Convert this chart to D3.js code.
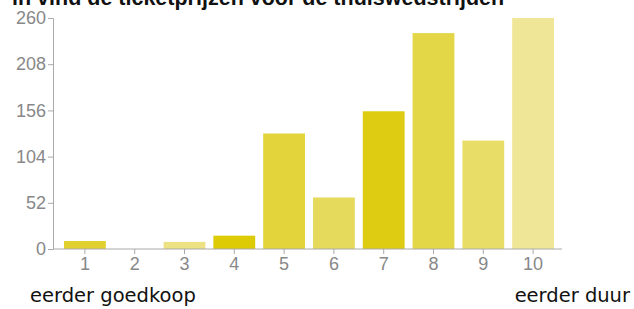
<!DOCTYPE html>
<html>
<head>
<meta charset="utf-8">
<script src="https://cdn.jsdelivr.net/npm/d3@7"></script>
<style>
  body { margin: 0; background: #fff; }
  svg { display: block; font-family: "Liberation Sans", Arial, sans-serif; }
</style>
</head>
<body>
<div id="root"></div>
<script>
"use strict";

const title = "in vind de ticketprijzen voor de thuiswedstrijden";
const categories = ["1", "2", "3", "4", "5", "6", "7", "8", "9", "10"];
const counts = [9, 0, 8, 15, 130, 58, 155, 243, 122, 260];
const yTicks = [0, 52, 104, 156, 208, 260];
const endLabels = ["eerder goedkoop", "eerder duur"];

const barColors = ["#e1d12e", "#e1d12e", "#ede283", "#dccb05", "#e2d43a",
                   "#e6da5c", "#ddcc12", "#e4d747", "#e8dd66", "#efe797"];

const width = 634;
const height = 309;

const x = d3.scaleBand().domain(categories).range([60, 558]).paddingInner(0.16).paddingOuter(0.08);
const y = d3.scaleLinear().domain([0, 260]).range([249, 18]);

const svg = d3.select("#root")
  .append("svg")
  .attr("width", width)
  .attr("height", height);

// title sits partly above the top edge, like in the original screenshot
svg.append("text")
  .attr("x", 12)
  .attr("y", 5)
  .attr("font-size", 21.5)
  .attr("font-weight", "bold")
  .attr("fill", "#111")
  .text(title);

svg.selectAll("rect.bar")
  .data(counts)
  .enter()
  .append("rect")
  .attr("class", "bar")
  .attr("x", (d, i) => x(categories[i]))
  .attr("width", x.bandwidth())
  .attr("y", (d) => y(d))
  .attr("height", (d) => y(0) - y(d))
  .attr("fill", (d, i) => barColors[i]);

const yAxis = svg.append("g")
  .attr("transform", "translate(53,0)")
  .call(d3.axisLeft(y).tickValues(yTicks).tickSize(5).tickPadding(2));

const xAxis = svg.append("g")
  .attr("transform", `translate(0,${y(0)})`)
  .call(d3.axisBottom(x).tickSize(5).tickPadding(3));

xAxis.select(".domain").attr("d", "M53,0H562");

[yAxis, xAxis].forEach((g) => {
  g.select(".domain").attr("stroke", "#aaa");
  g.selectAll(".tick line").attr("stroke", "#aaa");
  g.selectAll(".tick text")
    .attr("fill", "#888")
    .attr("font-size", 18)
    .attr("font-family", "Liberation Sans, Arial, sans-serif");
});

svg.append("text")
  .attr("x", 30)
  .attr("y", 302)
  .attr("font-size", 19.5)
  .attr("font-family", "DejaVu Sans, sans-serif")
  .attr("fill", "#111")
  .text(endLabels[0]);

svg.append("text")
  .attr("x", 630)
  .attr("y", 302)
  .attr("text-anchor", "end")
  .attr("font-size", 19.5)
  .attr("font-family", "DejaVu Sans, sans-serif")
  .attr("fill", "#111")
  .text(endLabels[1]);
</script>
</body>
</html>
